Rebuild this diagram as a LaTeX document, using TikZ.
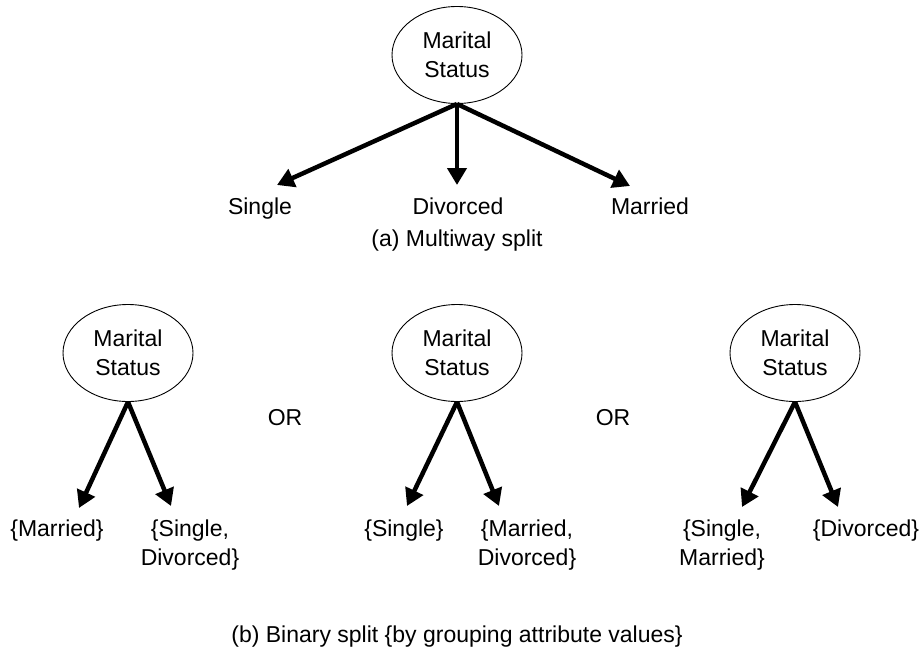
\documentclass[tikz,border=0pt]{standalone}
\usepackage{fontspec}
\setmainfont{Liberation Sans}
\usetikzlibrary{arrows.meta,shapes.geometric}
\begin{document}
\begin{tikzpicture}[x=1pt,y=-1pt,
  every node/.style={font=\fontsize{23}{28.5}\selectfont, inner sep=0pt},
  attr/.style={ellipse, draw, line width=0.9pt, minimum width=130pt, minimum height=97pt, align=center},
  lbl/.style={align=center},
  br/.style={line width=4.5pt, -{Triangle[length=17pt,width=19pt]}}]
\useasboundingbox (0,0) rectangle (923,653);
% (a) multiway
\node[attr] (m0) at (457,55) {Marital\\Status};
\coordinate (t1) at (277,185);
\coordinate (t2) at (457,185);
\coordinate (t3) at (630,186);
\node[lbl, anchor=base] (s1) at (260,214) {Single};
\node[lbl, anchor=base] (s2) at (458,214) {Divorced};
\node[lbl, anchor=base] (s3) at (650,214) {Married};
\draw[br] (m0.south) -- (t1);
\draw[br] (m0.south) -- (t2);
\draw[br] (m0.south) -- (t3);
\node[anchor=base] (capa) at (457,246) {(a) Multiway split};
% (b) binary
\node[attr] (b1) at (128,353) {Marital\\Status};
\node[attr] (b2) at (457,353) {Marital\\Status};
\node[attr] (b3) at (795,353) {Marital\\Status};
\node (or1) at (285,418) {OR};
\node (or2) at (613,418) {OR};
\coordinate (u1) at (79,508);
\coordinate (u2) at (171,506);
\coordinate (u3) at (407,506);
\coordinate (u4) at (499,506);
\coordinate (u5) at (742,507);
\coordinate (u6) at (838,507);
\draw[br] (b1.south) -- (u1);
\draw[br] (b1.south) -- (u2);
\draw[br] (b2.south) -- (u3);
\draw[br] (b2.south) -- (u4);
\draw[br] (b3.south) -- (u5);
\draw[br] (b3.south) -- (u6);
\node[lbl, anchor=north] (l1) at (57,520) {\{Married\}};
\node[lbl, anchor=north] (l2) at (190,520) {\{Single,\\Divorced\}};
\node[lbl, anchor=north] (l3) at (404,520) {\{Single\}};
\node[lbl, anchor=north] (l4) at (527,520) {\{Married,\\Divorced\}};
\node[lbl, anchor=north] (l5) at (722,520) {\{Single,\\Married\}};
\node[lbl, anchor=north] (l6) at (866,520) {\{Divorced\}};
\node[anchor=base] (capb) at (457,642) {(b) Binary split \{by grouping attribute values\}};
\end{tikzpicture}
\end{document}
